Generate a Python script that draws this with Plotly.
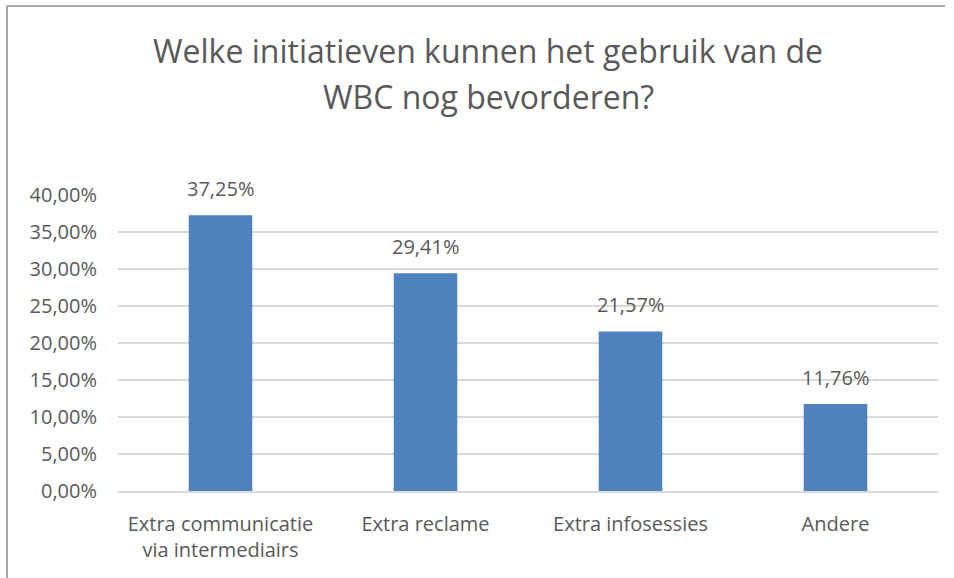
import plotly.graph_objects as go

categories = ["Extra communicatie<br>via intermediairs", "Extra reclame", "Extra infosessies", "Andere"]
values = [0.3725, 0.2941, 0.2157, 0.1176]
value_labels = ["37,25%", "29,41%", "21,57%", "11,76%"]
tick_vals = [0, 0.05, 0.10, 0.15, 0.20, 0.25, 0.30, 0.35, 0.40]
tick_text = ["0,00%", "5,00%", "10,00%", "15,00%", "20,00%", "25,00%", "30,00%", "35,00%", "40,00%"]
title_lines = ["Welke initiatieven kunnen het gebruik van de", "WBC nog bevorderen?"]

W, H = 954, 578
L, R, T, B = 118, 16, 195, 87
pw, ph = W - L - R, H - T - B


def px_x(x):
    return (x - L) / pw


def px_y(y):
    return (H - B - y) / ph


text_color = "#595959"
font = "Open Sans"

fig = go.Figure(go.Bar(
    x=categories,
    y=values,
    marker=dict(color="#4F81BD", line=dict(width=0)),
    hoverinfo="skip",
))

# data labels above bars
for c, v, t in zip(categories, values, value_labels):
    fig.add_annotation(x=c, y=v, text=t, showarrow=False, yanchor="bottom",
                       yshift=11, font=dict(size=20, color=text_color, family=font))

# title, two lines
for i, line in enumerate(title_lines):
    fig.add_annotation(xref="paper", yref="paper", x=px_x(488), y=px_y(50 + i * 46),
                       text=line, showarrow=False, xanchor="center", yanchor="middle",
                       font=dict(size=32, color=text_color, family=font))

# chart frame (top and left edges visible)
fig.add_shape(type="line", xref="paper", yref="paper", x0=px_x(7), x1=px_x(945),
              y0=px_y(6), y1=px_y(6), line=dict(color="#A6A6A6", width=2))
fig.add_shape(type="line", xref="paper", yref="paper", x0=px_x(7), x1=px_x(7),
              y0=px_y(6), y1=px_y(580), line=dict(color="#A6A6A6", width=2))

fig.update_layout(
    width=W, height=H,
    margin=dict(l=L, r=R, t=T, b=B),
    paper_bgcolor="white", plot_bgcolor="white",
    bargap=0.69,
    showlegend=False,
    font=dict(family=font, size=20, color=text_color),
)
fig.update_xaxes(showgrid=False, showline=True, linecolor="#D9D9D9", linewidth=2,
                 ticks="", ticklabelstandoff=14, tickfont=dict(size=20, color=text_color))
fig.update_yaxes(range=[0, 0.4], tickvals=tick_vals, ticktext=tick_text,
                 showgrid=True, gridcolor="#D9D9D9", gridwidth=2, zeroline=False,
                 showline=False, ticks="", ticklabelstandoff=20,
                 tickfont=dict(size=20, color=text_color))

fig.write_html("out.html", config={"displayModeBar": False},
               post_script="document.body.style.margin='0';")
